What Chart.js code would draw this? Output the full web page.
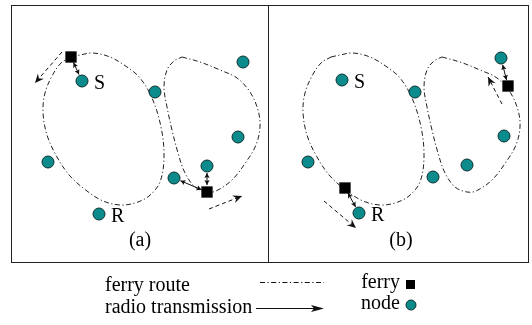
<!DOCTYPE html>
<html>
<head>
<meta charset="utf-8">
<script src="https://cdn.jsdelivr.net/npm/chart.js@4.4.1/dist/chart.umd.min.js"></script>
<style>
    html, body { margin: 0; padding: 0; background: #fff; }
    #wrap { width: 532px; height: 325px; }
</style>
</head>
<body>
<div id="wrap"><canvas id="ferryChart" width="532" height="325"></canvas></div>
<script>

// panel (a)
const nodesA =
    [[82, 81], [155, 92], [243, 62], [238, 137], [207, 166], [174, 178], [48, 162], [99, 214]];

const nodeNamesA =
    ['S', '', '', '', '', '', '', 'R'];

const ferriesA =
    [[71, 57], [207, 192]];

const routeLeftA =
    [[71, 57], [80, 55], [93, 53], [110, 57], [127, 67], [140, 78], [152, 98], [161, 127],
     [164, 157], [160, 182], [149, 196], [135, 203], [120, 205], [103, 201], [87, 191],
     [70, 176], [57, 157], [47, 135], [43, 112], [45, 93], [52, 76], [61, 63], [71, 57]];

const routeRightA =
    [[182, 57], [200, 62], [220, 70], [237, 78], [250, 92], [258, 110], [260, 127],
     [256, 145], [246, 162], [232, 180], [216, 191], [207, 192], [195, 187], [185, 173],
     [178, 153], [172, 130], [167, 107], [164, 87], [167, 70], [174, 61], [182, 57]];

const radioLinksA =
    [[[73.5, 62.5], [79, 74.6]], [[207, 185], [207, 173]], [[201.5, 189.7], [180.4, 180.7]]];

const movesA =
    [[[62, 52], [35, 83]], [[209, 209], [242, 196]]];

// panel (b)
const nodesB =
    [[342, 80], [415, 92], [501, 58], [504, 136], [467, 165], [433, 177], [308, 162], [359, 213]];

const nodeNamesB =
    ['S', '', '', '', '', '', '', 'R'];

const ferriesB =
    [[508, 86], [345, 188]];

const routeLeftB =
    [[331, 57], [340, 55], [353, 53], [370, 57], [387, 67], [400, 78], [412, 98], [421, 127],
     [424, 157], [420, 182], [409, 196], [395, 203], [380, 205], [363, 201], [347, 191],
     [330, 176], [317, 157], [307, 135], [303, 112], [305, 93], [312, 76], [321, 63], [331, 57]];

const routeRightB =
    [[442, 57], [460, 62], [480, 70], [497, 78], [510, 92], [518, 110], [520, 127],
     [516, 145], [506, 162], [492, 180], [476, 191], [467, 192], [455, 187], [445, 173],
     [438, 153], [432, 130], [427, 107], [424, 87], [427, 70], [434, 61], [442, 57]];

const radioLinksB =
    [[[506.5, 80], [502.7, 64.8]], [[348, 193], [355.6, 207]]];

const movesB =
    [[[502, 104], [488, 77]], [[324, 201], [356, 228]]];

const legendTexts =
    ['ferry route', 'radio transmission', 'ferry', 'node'];

const panelCaptions =
    ['(a)', '(b)'];

const TEAL = '#0b8b8b';
const INK = '#111';
const SERIF = '"Liberation Serif", "Times New Roman", serif';

function toPoints(list) {
    return list.map(p => ({ x: p[0], y: p[1] }));
}

function drawHead(ctx, from, to, len, half, notch) {
    const ang = Math.atan2(to.y - from.y, to.x - from.x);
    ctx.save();
    ctx.translate(to.x, to.y);
    ctx.rotate(ang);
    ctx.beginPath();
    ctx.moveTo(0, 0);
    ctx.lineTo(-len, -half);
    ctx.lineTo(-len + notch, 0);
    ctx.lineTo(-len, half);
    ctx.closePath();
    ctx.fill();
    ctx.restore();
}

const datasets = [];

function addPanel(nodes, names, ferries, routes, links, moves) {

    datasets.push({
        data: toPoints(nodes),
        names: names,
        pointStyle: 'circle',
        pointRadius: 6,
        backgroundColor: TEAL,
        borderColor: '#0d2f2f',
        borderWidth: 1,
        order: 0
    });

    datasets.push({
        data: toPoints(ferries),
        pointStyle: 'rect',
        pointRadius: 8,
        backgroundColor: '#000',
        borderColor: '#000',
        borderWidth: 0,
        order: 1
    });

    links.forEach(l => datasets.push({
        data: toPoints(l),
        showLine: true,
        pointRadius: 0,
        borderColor: INK,
        borderWidth: 1,
        heads: 'both',
        order: 2
    }));

    moves.forEach(m => datasets.push({
        data: toPoints(m),
        showLine: true,
        pointRadius: 0,
        borderColor: INK,
        borderWidth: 1,
        borderDash: [4, 3],
        heads: 'end',
        order: 2
    }));

    routes.forEach(r => datasets.push({
        data: toPoints(r),
        showLine: true,
        pointRadius: 0,
        borderColor: '#222',
        borderWidth: 1,
        borderDash: [5, 2.5, 1.2, 2.5],
        tension: 0.35,
        order: 3
    }));
}

addPanel(nodesA, nodeNamesA, ferriesA, [routeLeftA, routeRightA], radioLinksA, movesA);
addPanel(nodesB, nodeNamesB, ferriesB, [routeLeftB, routeRightB], radioLinksB, movesB);

const arrowHeads = {
    id: 'arrowHeads',
    afterDatasetsDraw(chart) {
        const ctx = chart.ctx;
        ctx.fillStyle = INK;
        chart.data.datasets.forEach((ds, i) => {
            if (!ds.heads) {
                return;
            }
            const pts = chart.getDatasetMeta(i).data;
            const n = pts.length;
            if (ds.heads === 'both') {
                drawHead(ctx, pts[n - 2], pts[n - 1], 5, 2.6, 1);
                drawHead(ctx, pts[1], pts[0], 5, 2.6, 1);
            } else {
                drawHead(ctx, pts[n - 2], pts[n - 1], 9, 4, 3);
            }
        });
    }
};

const frameAndText = {
    id: 'frameAndText',
    beforeDatasetsDraw(chart) {
        const ctx = chart.ctx;
        ctx.save();
        ctx.strokeStyle = '#222';
        ctx.lineWidth = 1;
        ctx.strokeRect(11.5, 5.5, 517, 257);
        ctx.beginPath();
        ctx.moveTo(268.5, 5.5);
        ctx.lineTo(268.5, 262.5);
        ctx.stroke();
        ctx.restore();
    },
    afterDraw(chart) {
        const ctx = chart.ctx;
        ctx.save();
        ctx.fillStyle = '#000';
        ctx.font = '20px ' + SERIF;
        ctx.textBaseline = 'alphabetic';

        // node names (S, R) to the right of their node
        chart.data.datasets.forEach((ds, i) => {
            if (!ds.names) {
                return;
            }
            const pts = chart.getDatasetMeta(i).data;
            ds.names.forEach((name, k) => {
                if (name) {
                    ctx.textAlign = 'left';
                    ctx.fillText(name, pts[k].x + 12, pts[k].y + 8);
                }
            });
        });

        // panel captions
        ctx.textAlign = 'center';
        ctx.fillText(panelCaptions[0], 140, 246);
        ctx.fillText(panelCaptions[1], 401, 246);

        // legend
        ctx.font = '20px ' + SERIF;
        ctx.textAlign = 'left';
        ctx.fillText(legendTexts[0], 105, 291);
        ctx.fillText(legendTexts[1], 105, 313);
        ctx.textAlign = 'right';
        ctx.fillText(legendTexts[2], 400, 288);
        ctx.fillText(legendTexts[3], 400, 309);

        ctx.strokeStyle = INK;
        ctx.lineWidth = 1;
        ctx.setLineDash([5, 2.5, 1.2, 2.5]);
        ctx.beginPath();
        ctx.moveTo(260, 282.5);
        ctx.lineTo(324, 282.5);
        ctx.stroke();

        ctx.setLineDash([]);
        ctx.beginPath();
        ctx.moveTo(256, 308.5);
        ctx.lineTo(318, 308.5);
        ctx.stroke();
        ctx.fillStyle = INK;
        drawHead(ctx, { x: 300, y: 308.5 }, { x: 324, y: 308.5 }, 13, 3.5, 3);

        ctx.fillStyle = '#000';
        ctx.fillRect(406, 280, 9, 9);

        ctx.beginPath();
        ctx.arc(411, 305, 5, 0, Math.PI * 2);
        ctx.fillStyle = TEAL;
        ctx.fill();
        ctx.strokeStyle = '#0d2f2f';
        ctx.stroke();

        ctx.restore();
    }
};

new Chart(document.getElementById('ferryChart'), {
    type: 'scatter',
    data: { datasets },
    options: {
        responsive: false,
        animation: false,
        events: [],
        layout: { padding: 0, autoPadding: false },
        plugins: {
            legend: { display: false },
            tooltip: { enabled: false }
        },
        scales: {
            x: { type: 'linear', display: false, min: 0, max: 532 },
            y: { type: 'linear', display: false, min: 0, max: 325, reverse: true }
        }
    },
    plugins: [frameAndText, arrowHeads]
});

</script>
</body>
</html>
